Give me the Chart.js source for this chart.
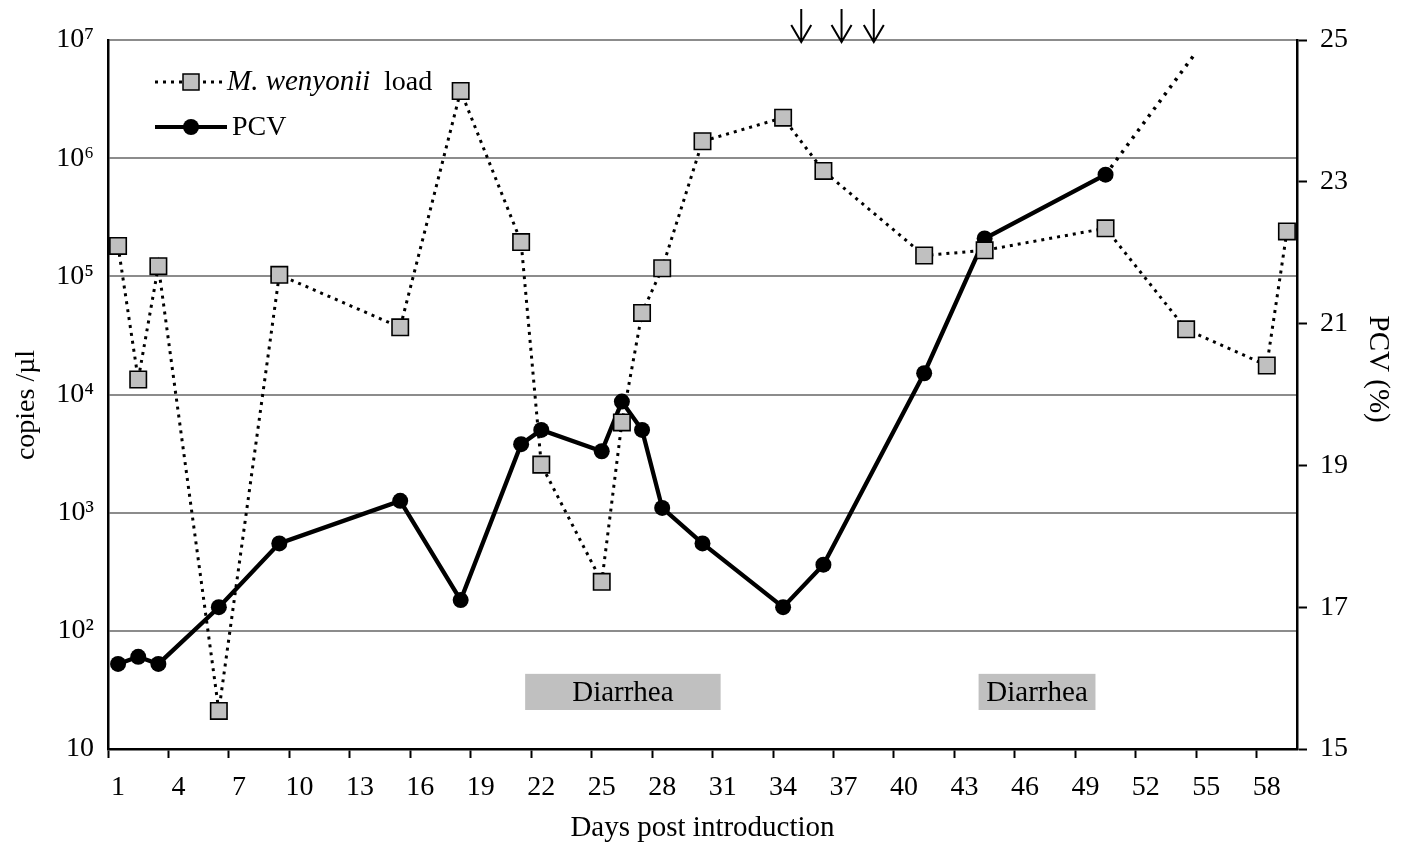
<!DOCTYPE html>
<html>
<head>
<meta charset="utf-8">
<script src="https://cdn.jsdelivr.net/npm/chart.js@4.4.1/dist/chart.umd.min.js"></script>
<style>
html,body{margin:0;padding:0;background:#fff;}
#wrap{width:1412px;height:846px;position:relative;}
</style>
</head>
<body>
<div id="wrap"><canvas id="c"></canvas></div>
<script>
// ---- data ----
const loadDays   = [1, 2, 3, 6, 9, 15, 18, 21, 22, 25, 26, 27, 28, 30, 34, 36, 41, 44, 50, 54, 58, 59];
const loadCopies = [181000, 13400, 122000, 21, 103000, 37000, 3700000, 195000, 2550, 260, 5800, 49000, 117000, 1390000, 2200000, 780000, 150000, 166000, 255000, 35600, 17600, 240000];
const pcvDays    = [1, 2, 3, 6, 9, 15, 18, 21, 22, 25, 26, 27, 28, 30, 34, 36, 41, 44, 50];
const pcvValues  = [16.2, 16.3, 16.2, 17.0, 17.9, 18.5, 17.1, 19.3, 19.5, 19.2, 19.9, 19.5, 18.4, 17.9, 17.0, 17.6, 20.3, 22.2, 23.1];
const pcvTrendDays   = [50, 54.5];
const pcvTrendValues = [23.1, 24.83];
const dayTickLabels  = [1, 4, 7, 10, 13, 16, 19, 22, 25, 28, 31, 34, 37, 40, 43, 46, 49, 52, 55, 58];
const loadTicks      = [10, 100, 1000, 10000, 100000, 1000000, 10000000];
const loadTickLabels = ['10', '10\u00B2', '10\u00B3', '10\u2074', '10\u2075', '10\u2076', '10\u2077'];
const pcvTicks       = [15, 17, 19, 21, 23, 25];
const diarrheaStart  = [21.2, 43.7];
const diarrheaEnd    = [30.9, 49.5];
const diarrheaPcvTop = 16.06;
const diarrheaPcvBottom = 15.55;
const treatmentDays  = [34.9, 36.9, 38.5];

const FONT = "'Liberation Serif', 'Times New Roman', serif";
Chart.defaults.font.family = FONT;
Chart.defaults.color = '#000';

const decor = {
  id: 'decor',
  beforeDatasetsDraw(chart) {
    const {ctx, scales} = chart;
    const x = scales.x, yR = scales.yR;
    const top = yR.getPixelForValue(diarrheaPcvTop);
    const bottom = yR.getPixelForValue(diarrheaPcvBottom);
    ctx.save();
    diarrheaStart.forEach((s, i) => {
      const x0 = x.getPixelForValue(s), x1 = x.getPixelForValue(diarrheaEnd[i]);
      ctx.fillStyle = '#c0c0c0';
      ctx.fillRect(x0, top, x1 - x0, bottom - top);
      ctx.fillStyle = '#000';
      ctx.font = '29px ' + FONT;
      ctx.textAlign = 'center';
      ctx.textBaseline = 'middle';
      ctx.fillText('Diarrhea', (x0 + x1) / 2, (top + bottom) / 2 + 1);
    });
    ctx.restore();
  },
  afterDraw(chart) {
    const {ctx, chartArea, scales} = chart;
    const x = scales.x;
    ctx.save();
    // treatment arrows
    ctx.strokeStyle = '#000';
    ctx.lineWidth = 2;
    treatmentDays.forEach(d => {
      const xp = x.getPixelForValue(d);
      const tip = chartArea.top + 2;
      ctx.beginPath();
      ctx.moveTo(xp, chartArea.top - 31);
      ctx.lineTo(xp, tip);
      ctx.moveTo(xp - 10, tip - 17);
      ctx.lineTo(xp, tip);
      ctx.lineTo(xp + 10, tip - 17);
      ctx.stroke();
    });
    // legend
    const lx = chartArea.left, ly = chartArea.top;
    const y1 = ly + 42, y2 = ly + 87;
    ctx.lineWidth = 3;
    ctx.setLineDash([3, 5]);
    ctx.beginPath();
    ctx.moveTo(lx + 47, y1); ctx.lineTo(lx + 118, y1);
    ctx.stroke();
    ctx.setLineDash([]);
    ctx.fillStyle = '#c0c0c0';
    ctx.fillRect(lx + 75, y1 - 8, 16, 16);
    ctx.lineWidth = 1.5;
    ctx.strokeRect(lx + 75, y1 - 8, 16, 16);
    ctx.lineWidth = 4;
    ctx.beginPath();
    ctx.moveTo(lx + 47, y2); ctx.lineTo(lx + 119, y2);
    ctx.stroke();
    ctx.fillStyle = '#000';
    ctx.beginPath();
    ctx.arc(lx + 83, y2, 8, 0, Math.PI * 2);
    ctx.fill();
    ctx.textAlign = 'left';
    ctx.textBaseline = 'middle';
    ctx.font = 'italic 29px ' + FONT;
    ctx.fillText('M. wenyonii', lx + 119, y1);
    ctx.font = '28px ' + FONT;
    ctx.fillText('load', lx + 276, y1 + 1);
    ctx.fillText('PCV', lx + 124, y2 + 1);
    ctx.restore();
  }
};

const toXY = (xs, ys) => xs.map((d, i) => ({x: d, y: ys[i]}));

new Chart(document.getElementById('c'), {
  type: 'line',
  data: {
    datasets: [
      {
        label: 'M. wenyonii load',
        data: toXY(loadDays, loadCopies),
        yAxisID: 'yL',
        borderColor: '#000',
        borderWidth: 3,
        borderDash: [3, 5],
        pointStyle: 'rect',
        pointRadius: 11.6,
        pointBackgroundColor: '#c0c0c0',
        pointBorderColor: '#000',
        pointBorderWidth: 1.6,
        tension: 0
      },
      {
        label: 'PCV',
        data: toXY(pcvDays, pcvValues),
        yAxisID: 'yR',
        borderColor: '#000',
        borderWidth: 4.3,
        pointStyle: 'circle',
        pointRadius: 8,
        pointBackgroundColor: '#000',
        pointBorderColor: '#000',
        pointBorderWidth: 0,
        tension: 0
      },
      {
        label: 'PCV trend',
        data: toXY(pcvTrendDays, pcvTrendValues),
        yAxisID: 'yR',
        borderColor: '#000',
        borderWidth: 3.5,
        borderDash: [3, 6],
        pointRadius: 0,
        tension: 0
      }
    ]
  },
  options: {
    responsive: true,
    maintainAspectRatio: false,
    animation: false,
    devicePixelRatio: 1,
    layout: {padding: {top: 40, left: 0, right: 0, bottom: 0}},
    plugins: {legend: {display: false}, tooltip: {enabled: false}},
    scales: {
      x: {
        type: 'linear',
        position: 'bottom',
        min: 0.5,
        max: 59.5,
        afterBuildTicks: (s) => {
          const t = [];
          dayTickLabels.forEach(d => { t.push({value: d - 0.5}); t.push({value: d}); });
          s.ticks = t;
        },
        afterFit: (s) => { s.height = 97; },
        ticks: {
          autoSkip: false,
          maxRotation: 0,
          minRotation: 0,
          padding: 13,
          font: {size: 28},
          callback: (v) => Number.isInteger(v) ? String(v) : ''
        },
        grid: {
          drawOnChartArea: false,
          tickLength: 9,
          tickWidth: 2,
          tickColor: (c) => (c.tick && Number.isInteger(c.tick.value)) ? 'rgba(0,0,0,0)' : '#000'
        },
        border: {color: '#000', width: 2.5},
        title: {display: true, text: 'Days post introduction', font: {size: 29}, padding: {top: 5, bottom: 0}}
      },
      yL: {
        type: 'logarithmic',
        position: 'left',
        min: 10,
        max: 10000000,
        afterBuildTicks: (s) => { s.ticks = loadTicks.map(v => ({value: v})); },
        afterFit: (s) => { s.width = 108; },
        ticks: {
          padding: 14,
          font: {size: 28},
          callback: (v) => loadTickLabels[loadTicks.indexOf(v)] ?? ''
        },
        grid: {color: '#8c8c8c', lineWidth: 2, drawTicks: false},
        border: {color: '#000', width: 2.5},
        title: {display: true, text: 'copies /\u00B5l   ', font: {size: 28}, padding: {top: 10, bottom: 0}}
      },
      yR: {
        type: 'linear',
        position: 'right',
        min: 15,
        max: 25,
        afterBuildTicks: (s) => { s.ticks = pcvTicks.map(v => ({value: v})); },
        afterFit: (s) => { s.width = 115; },
        ticks: {padding: 13, font: {size: 28}},
        grid: {drawOnChartArea: false, tickLength: 10, tickWidth: 2, tickColor: '#000'},
        border: {color: '#000', width: 2.5},
        title: {display: true, text: 'PCV (%)       ', font: {size: 29}, padding: {top: 17, bottom: 0}}
      }
    }
  },
  plugins: [decor]
});
</script>
</body>
</html>
